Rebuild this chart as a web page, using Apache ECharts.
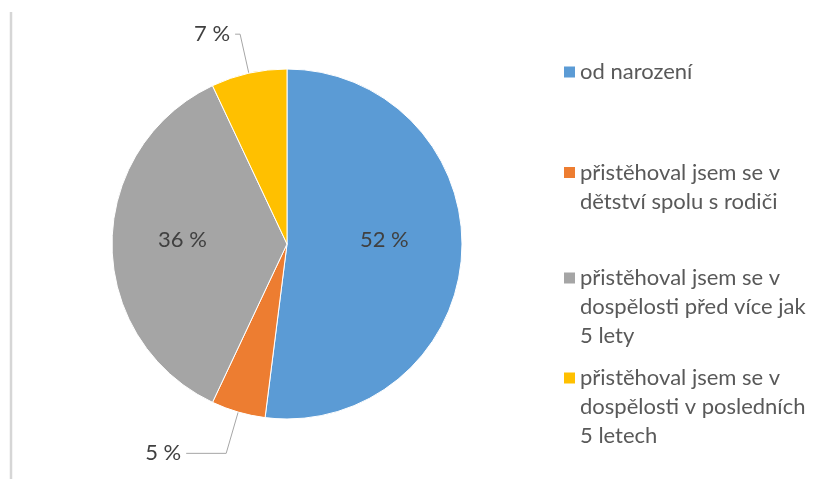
<!DOCTYPE html>
<html>
<head>
<meta charset="utf-8">
<script src="https://cdn.jsdelivr.net/npm/echarts@6/dist/echarts.min.js"></script>
<style>
  html, body { margin: 0; background: #fff; }
  #chart { width: 825px; height: 479px; }
</style>
</head>
<body>
<div id="chart"></div>
<script>
// data
const categories = [
  'od narození',
  'přistěhoval jsem se v dětství spolu s rodiči',
  'přistěhoval jsem se v dospělosti před více jak 5 lety',
  'přistěhoval jsem se v dospělosti v posledních 5 letech'
];
const values = [52, 5, 36, 7];
const legendLines = [
  ['od narození'],
  ['přistěhoval jsem se v', 'dětství spolu s rodiči'],
  ['přistěhoval jsem se v', 'dospělosti před více jak', '5 lety'],
  ['přistěhoval jsem se v', 'dospělosti v posledních', '5 letech']
];
const colors = ['#5B9BD5', '#ED7D31', '#A5A5A5', '#FFC000'];

const FONT = 'Lato';
const LINE_H = 29;
const legendTops = [57.5, 129, 205.5, 305.5];

// vnitřní popisky posunout jako v Excelu
const insideShift = { 0: { dx: 7, dy: -10 }, 2: { dx: -14, dy: -4 } };

const chart = echarts.init(document.getElementById('chart'));

const pieData = categories.map((name, i) => {
  const item = { name, value: values[i], itemStyle: { color: colors[i] } };
  if (i === 1 || i === 3) {
    item.label = { position: 'outside', padding: [0, 0, 12, 0] };
    item.labelLine = { show: true, length: i === 1 ? 43 : 40, length2: i === 1 ? 40 : 5 };
  }
  return item;
});

// každá položka legendy zvlášť, první řádek zarovnaný s ikonou
const legends = categories.map((name, i) => ({
  data: [name],
  orient: 'vertical',
  left: 564,
  top: legendTops[i],
  padding: 0,
  icon: 'rect',
  itemWidth: 11,
  itemHeight: 11,
  itemGap: 0,
  selectedMode: false,
  itemStyle: { borderWidth: 0 },
  formatter: () => {
    const lines = legendLines[i];
    return '\n'.repeat(lines.length - 1) + lines.join('\n');
  },
  textStyle: { fontFamily: FONT, fontSize: 22, color: '#595959', lineHeight: LINE_H }
}));

chart.setOption({
  animation: false,
  legend: legends,
  graphic: [{
    type: 'line',
    shape: { x1: 11, y1: 12, x2: 11, y2: 479 },
    style: { stroke: '#d6d6d6', lineWidth: 2.5 }
  }],
  series: [{
    type: 'pie',
    center: [287, 244],
    radius: 175,
    startAngle: 90,
    clockwise: true,
    avoidLabelOverlap: false,
    itemStyle: { borderColor: '#fff', borderWidth: 1 },
    label: {
      show: true,
      position: 'inside',
      formatter: '{c} %',
      fontFamily: FONT,
      fontSize: 22,
      color: '#404040'
    },
    labelLine: { show: false, lineStyle: { color: '#a6a6a6', width: 1 } },
    labelLayout: (p) => insideShift[p.dataIndex] || {},
    emphasis: { disabled: true },
    data: pieData
  }]
});

window.addEventListener('resize', () => chart.resize());
</script>
</body>
</html>
